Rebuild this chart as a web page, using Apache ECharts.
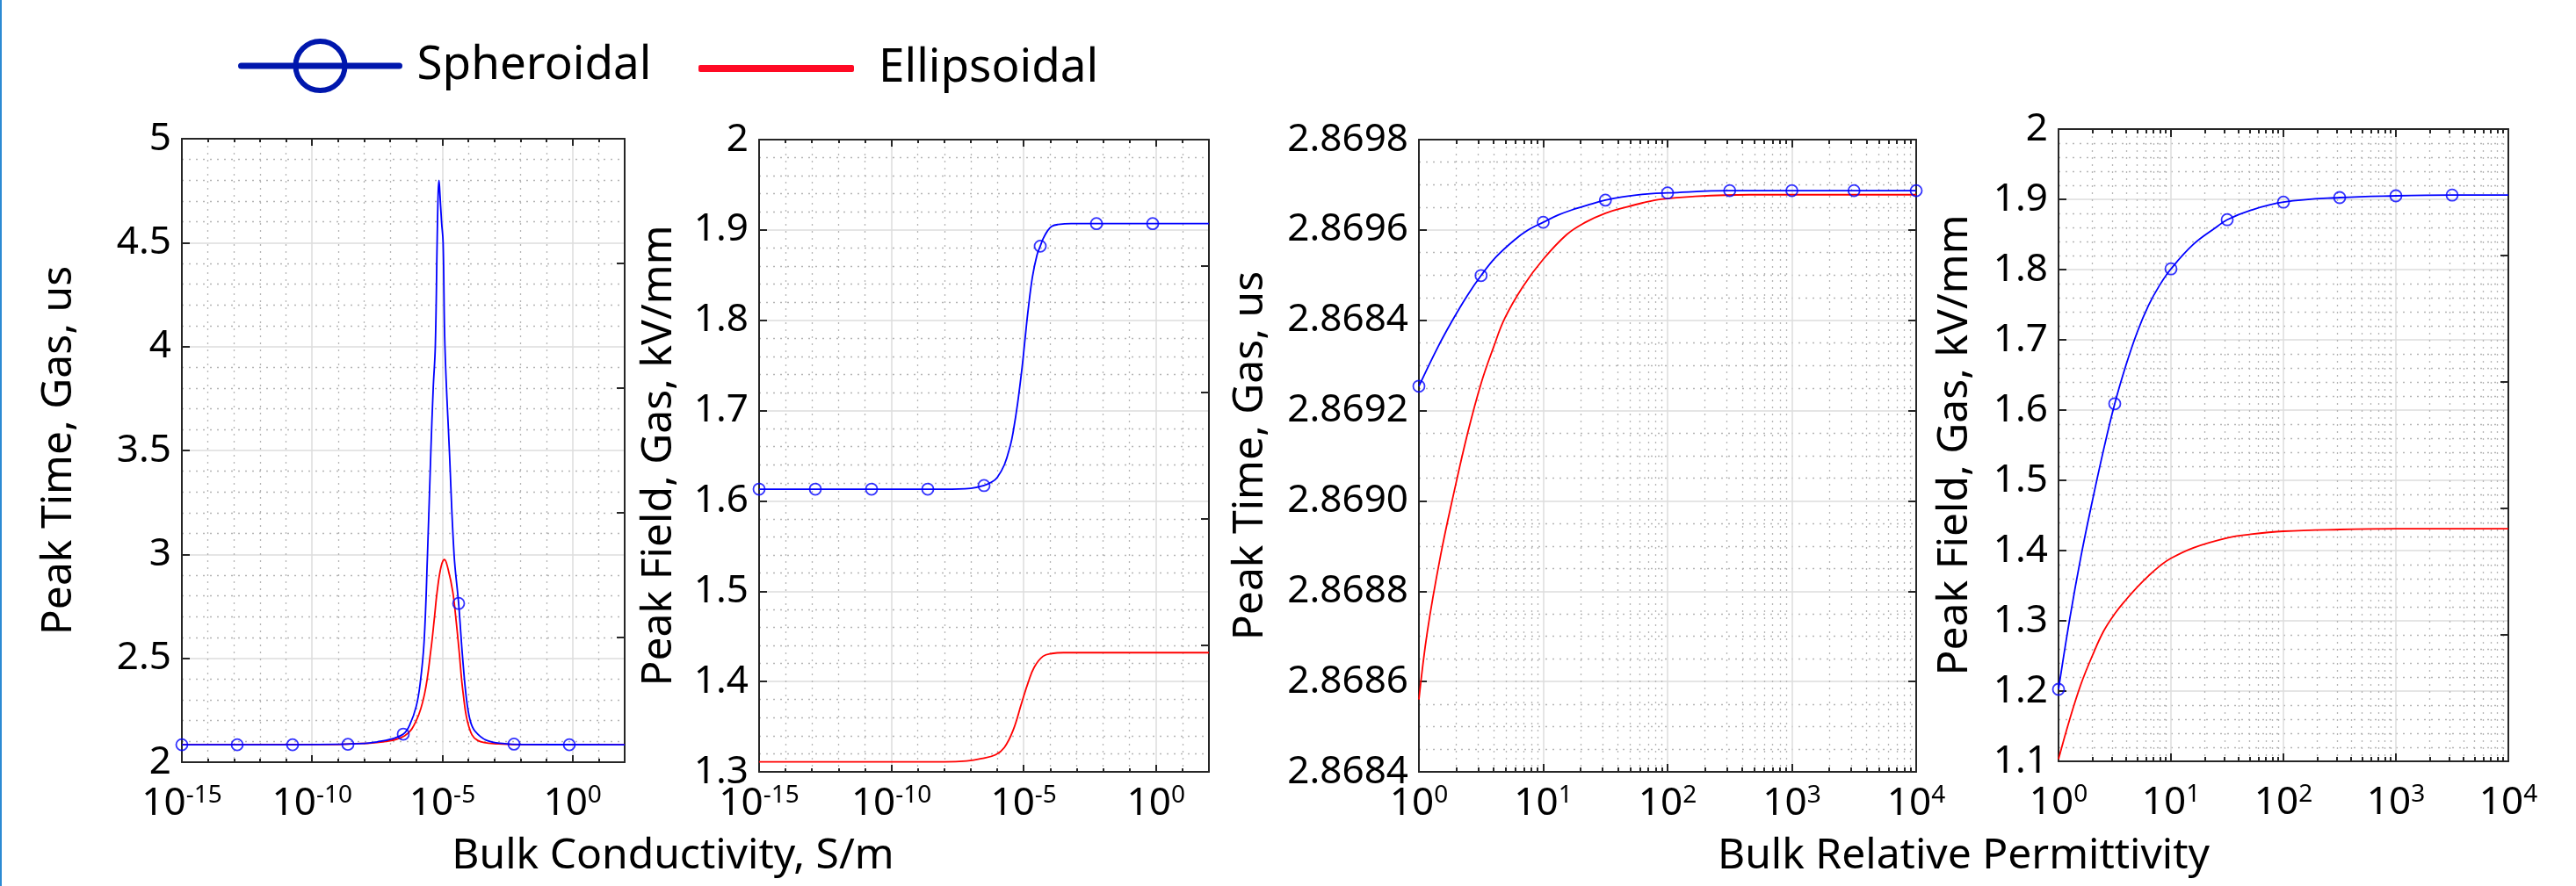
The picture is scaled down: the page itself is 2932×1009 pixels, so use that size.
<!DOCTYPE html>
<html>
<head>
<meta charset="utf-8">
<script src="https://cdn.jsdelivr.net/npm/echarts@6/dist/echarts.min.js"></script>
<style>
html,body{margin:0;padding:0;background:#fff;}
#chart{width:2932px;height:1009px;}
</style>
</head>
<body>
<div id="chart"></div>
<script>
// ================= DATA =================
const seriesNames = ['Spheroidal', 'Ellipsoidal'];

// Panel 1: Peak Time vs log10(Bulk Conductivity, S/m)
const p1SphX = [-15,-12,-9,-8,-7.5,-7,-6.5,-6.25,-6,-5.85,-5.7,-5.57,-5.44,-5.35,-5.27,-5.2,-5.16,-5.13,-5.1,-5.03,-4.97,-4.9,-4.73,-4.55,-4.375,-4.22,-4.07,-3.93,-3.75,-3.3,-2.6,-2,2];
const p1SphY = [2.084,2.084,2.086,2.09,2.098,2.11,2.135,2.18,2.27,2.38,2.58,3.0,3.5,3.8,4.0,4.5,4.74,4.80,4.75,4.6,4.5,4.0,3.5,3.0,2.764,2.5,2.3,2.2,2.15,2.105,2.089,2.085,2.084];
const p1EllX = [-15,-9,-8.5,-7.36,-6.45,-6.0,-5.68,-5.44,-5.3,-5.2,-5.05,-4.92,-4.78,-4.6,-4.47,-4.36,-4.2,-3.98,-3.65,-2.84,-2,2];
const p1EllY = [2.084,2.085,2.088,2.097,2.127,2.2,2.33,2.54,2.7,2.82,2.94,2.975,2.93,2.82,2.68,2.54,2.33,2.17,2.105,2.088,2.085,2.084];
const p1MarkX = [-15,-12.875,-10.75,-8.625,-6.5,-4.375,-2.25,-0.125];
const p1MarkY = [2.084,2.084,2.084,2.086,2.135,2.764,2.087,2.084];

// Panel 2: Peak Field vs log10(Bulk Conductivity, S/m)
const p2SphX = [-15,-8,-7,-6.5,-6.2,-6.0,-5.73,-5.5,-5.4,-5.23,-5.06,-4.95,-4.83,-4.67,-4.5,-4.375,-4.27,-4.1,-3.94,-3.7,-3.2,2];
const p2SphY = [1.613,1.613,1.614,1.617,1.621,1.626,1.640,1.662,1.676,1.708,1.748,1.779,1.812,1.848,1.872,1.882,1.890,1.899,1.904,1.906,1.907,1.907];
const p2EllX = [-15,-8,-7.16,-6.6,-6.06,-5.73,-5.4,-5.07,-4.83,-4.6,-4.27,-3.94,-3.5,2];
const p2EllY = [1.311,1.311,1.312,1.3146,1.319,1.327,1.346,1.377,1.399,1.416,1.428,1.431,1.432,1.432];
const p2MarkX = [-15,-12.875,-10.75,-8.625,-6.5,-4.375,-2.25,-0.125];
const p2MarkY = [1.613,1.613,1.613,1.613,1.617,1.882,1.907,1.907];

// Panel 3: Peak Time vs log10(Bulk Relative Permittivity)
const p3SphX = [0,0.155,0.27,0.39,0.5,0.62,0.765,0.88,1.0,1.12,1.26,1.355,1.5,1.63,1.86,2.0,2.5,4];
const p3SphY = [2.869254,2.869342,2.869400,2.869455,2.869499,2.869540,2.869577,2.869600,2.869617,2.869633,2.869647,2.869655,2.869666,2.869673,2.869680,2.869682,2.869687,2.869687];
const p3EllX = [0,0.067,0.175,0.283,0.392,0.5,0.6,0.69,0.835,1.0,1.19,1.34,1.5,1.66,1.8,1.95,2.2,2.66,4];
const p3EllY = [2.86856,2.868709,2.86888,2.86902,2.86915,2.86926,2.86934,2.869404,2.869474,2.869535,2.86959,2.869617,2.869637,2.86965,2.86966,2.869668,2.869674,2.869678,2.869678];
const p3MarkX = [0,0.5,1,1.5,2,2.5,3,3.5,4];
const p3MarkY = [2.869254,2.869499,2.869617,2.869666,2.869682,2.869687,2.869687,2.869687,2.869687];
const p3TickLabels = ['2.8684','2.8686','2.8688','2.8690','2.8692','2.8684','2.8696','2.8698'];

// Panel 4: Peak Field vs log10(Bulk Relative Permittivity)
const p4SphX = [0,0.1,0.2,0.3,0.4,0.5,0.6,0.7,0.8,0.9,1.0,1.2,1.4,1.5,1.7,2.0,2.5,3,3.5,4];
const p4SphY = [1.2025,1.303,1.392,1.470,1.543,1.609,1.664,1.711,1.749,1.778,1.801,1.836,1.86,1.871,1.884,1.896,1.9025,1.905,1.906,1.906];
const p4EllX = [0,0.1,0.2,0.3,0.4,0.5,0.6,0.7,0.8,0.9,1.0,1.2,1.5,1.7,2.0,2.5,3,4];
const p4EllY = [1.103,1.16,1.21,1.25,1.285,1.31,1.33,1.348,1.364,1.378,1.389,1.404,1.418,1.423,1.4275,1.43,1.431,1.431];
const p4MarkX = [0,0.5,1,1.5,2,2.5,3,3.5];
const p4MarkY = [1.2025,1.609,1.801,1.871,1.896,1.9025,1.905,1.906];

// axis titles
const yTitles = ['Peak Time, Gas, us','Peak Field, Gas, kV/mm','Peak Time, Gas, us','Peak Field, Gas, kV/mm'];
const xTitles = ['Bulk Conductivity, S/m','Bulk Relative Permittivity'];

// ================= STYLE / LAYOUT =================
const FONT = 'Noto Sans';
const AXIS_COLOR = '#262626';
const MAJOR_GRID = '#dcdcdc';
const MINOR_GRID = '#b5b5b5';
const BLUE = '#0000ff';
const RED = '#ff0000';

// minor log-decade positions (2..9 x 10^n) for permittivity axes
const logMinor = [];
for (let n = 0; n < 4; n++) for (let k = 2; k <= 9; k++) logMinor.push(+(n + Math.log10(k)).toFixed(6));

const zip = (xs, ys) => xs.map((x, i) => [x, ys[i]]);

const panels = [
  { grid:{left:207, top:158, width:504, height:710},
    x:{min:-15, max:2, interval:5, minor:5, log:false, margin:24},
    y:{min:2, max:5, interval:0.5, minor:5, nameGap:116, fmt:null},
    right:5, sph:zip(p1SphX,p1SphY), ell:zip(p1EllX,p1EllY), marks:zip(p1MarkX,p1MarkY), yName:yTitles[0] },
  { grid:{left:864, top:159, width:512, height:720},
    x:{min:-15, max:2, interval:5, minor:5, log:false, margin:13},
    y:{min:1.3, max:2, interval:0.1, minor:5, nameGap:90, fmt:null},
    right:5, sph:zip(p2SphX,p2SphY), ell:zip(p2EllX,p2EllY), marks:zip(p2MarkX,p2MarkY), yName:yTitles[1] },
  { grid:{left:1615, top:159, width:566, height:720},
    x:{min:0, max:4, interval:1, minor:0, log:true, margin:13},
    y:{min:2.8684, max:2.8698, interval:0.0002, minor:4, nameGap:168,
       fmt:(v)=>p3TickLabels[Math.round((v-2.8684)/0.0002)] || ''},
    right:7, sph:zip(p3SphX,p3SphY), ell:zip(p3EllX,p3EllY), marks:zip(p3MarkX,p3MarkY), yName:yTitles[2] },
  { grid:{left:2343, top:147, width:512, height:720},
    x:{min:0, max:4, interval:1, minor:0, log:true, margin:24},
    y:{min:1.1, max:2, interval:0.1, minor:5, nameGap:94, fmt:null},
    right:5, sph:zip(p4SphX,p4SphY), ell:zip(p4EllX,p4EllY), marks:zip(p4MarkX,p4MarkY), yName:yTitles[3] }
];

const richSup = {
  b:{fontSize:44, fontFamily:FONT, color:'#000', lineHeight:46},
  s:{fontSize:28, fontFamily:FONT, color:'#000', lineHeight:28, verticalAlign:'top'}
};
const tickLine = {color:AXIS_COLOR, width:2};

const grids = [], xAxes = [], yAxes = [], series = [];

panels.forEach((p, gi) => {
  grids.push(Object.assign({outerBoundsMode:'none', containLabel:false}, p.grid));
  const xMain = xAxes.length;
  const base = {type:'value', gridIndex:gi, min:p.x.min, max:p.x.max, interval:p.x.interval};
  // bottom main axis
  xAxes.push(Object.assign({}, base, {
    position:'bottom',
    axisLine:{show:true, onZero:false, lineStyle:tickLine},
    axisTick:{show:true, inside:true, length:p.x.log ? 9 : 8, lineStyle:tickLine},
    minorTick:{show:p.x.minor > 0, splitNumber:p.x.minor || 5, length:4, lineStyle:tickLine},
    splitLine:{show:true, lineStyle:{color:MAJOR_GRID, width:1.5}},
    minorSplitLine:{show:p.x.minor > 0, lineStyle:{color:MINOR_GRID, width:1.3, type:[2,6]}},
    axisLabel:{show:true, margin:p.x.margin, showMaxLabel:p.x.log, showMinLabel:true,
      formatter:(v)=>'{b|10}{s|' + Math.round(v) + '}', rich:richSup}
  }));
  // top mirror axis
  xAxes.push(Object.assign({}, base, {
    position:'top',
    axisLine:{show:true, onZero:false, lineStyle:tickLine},
    axisTick:{show:true, inside:true, length:p.x.log ? 9 : 8, lineStyle:tickLine},
    minorTick:{show:p.x.minor > 0, splitNumber:p.x.minor || 5, length:4, lineStyle:tickLine},
    splitLine:{show:false}, axisLabel:{show:false}
  }));
  if (p.x.log) {
    // log-decade minor ticks + dotted minor grid (bottom) and minor ticks (top)
    xAxes.push(Object.assign({}, base, {
      position:'bottom',
      axisLine:{show:false},
      axisTick:{show:true, inside:true, length:5, lineStyle:tickLine, customValues:logMinor},
      splitLine:{show:true, lineStyle:{color:MINOR_GRID, width:1.3, type:[2,6]}},
      axisLabel:{show:false}
    }));
    xAxes.push(Object.assign({}, base, {
      position:'top',
      axisLine:{show:false},
      axisTick:{show:true, inside:true, length:5, lineStyle:tickLine, customValues:logMinor},
      splitLine:{show:false},
      axisLabel:{show:false}
    }));
  }
  const yMain = yAxes.length;
  yAxes.push({
    type:'value', gridIndex:gi, position:'left', min:p.y.min, max:p.y.max, interval:p.y.interval,
    axisLine:{show:true, onZero:false, lineStyle:tickLine},
    axisTick:{show:true, inside:true, length:9, lineStyle:tickLine},
    minorTick:{show:false, splitNumber:p.y.minor},
    splitLine:{show:true, lineStyle:{color:MAJOR_GRID, width:1.5}},
    minorSplitLine:{show:true, lineStyle:{color:MINOR_GRID, width:1.3, type:[2,6]}},
    axisLabel:{show:true, margin:12, fontSize:44, fontFamily:FONT, color:'#000',
      formatter: p.y.fmt || ((v)=>String(+v.toFixed(4)))},
    name:p.yName, nameLocation:'middle', nameRotate:90, nameGap:p.y.nameGap, nameMoveOverlap:false,
    nameTextStyle:{fontSize:48, fontFamily:FONT, color:'#000', lineHeight:48}
  });
  yAxes.push({
    type:'value', gridIndex:gi, position:'right', min:0, max:p.right, interval:1,
    axisLine:{show:true, onZero:false, lineStyle:tickLine},
    axisTick:{show:true, inside:true, length:9, lineStyle:tickLine},
    splitLine:{show:false}, axisLabel:{show:false}
  });
  series.push({
    name:seriesNames[1], type:'line', xAxisIndex:xMain, yAxisIndex:yMain, data:p.ell,
    symbol:'none', showSymbol:false, smooth:0.4,
    lineStyle:{color:RED, width:1.8}, itemStyle:{color:RED}, z:3, silent:true
  });
  series.push({
    name:seriesNames[0], type:'line', xAxisIndex:xMain, yAxisIndex:yMain, data:p.sph,
    symbol:'circle', showSymbol:false, smooth:0.4,
    lineStyle:{color:BLUE, width:1.8}, itemStyle:{color:BLUE}, z:4, silent:true
  });
});
panels.forEach((p, gi) => {
  const xMain = xAxes.findIndex(a => a.gridIndex === gi);
  series.push({
    name:seriesNames[0] + ' markers', type:'scatter', xAxisIndex:xMain, yAxisIndex:gi*2, data:p.marks,
    symbol:'circle', symbolSize:13,
    itemStyle:{color:'rgba(0,0,0,0)', borderColor:BLUE, borderWidth:1.8}, z:5, silent:true
  });
});

const option = {
  animation:false,
  backgroundColor:'#ffffff',
  textStyle:{fontFamily:FONT},
  legend:[
    { data:[seriesNames[0]], left:271, top:43, padding:0, selectedMode:false,
      itemWidth:180, itemHeight:70,
      itemStyle:{color:'rgba(0,0,0,0)', borderColor:'#0017ad', borderWidth:6},
      lineStyle:{color:'#0017ad', width:7, cap:'round'},
      textStyle:{fontSize:53, fontFamily:FONT, color:'#000', lineHeight:64, padding:[0,0,0,15]} },
    { data:[{name:seriesNames[1], icon:'roundRect'}], left:795, top:46, padding:0, selectedMode:false,
      itemWidth:177, itemHeight:8,
      itemStyle:{color:'#ff0a24'},
      textStyle:{fontSize:53, fontFamily:FONT, color:'#000', lineHeight:64, padding:[0,0,0,23]} }
  ],
  grid:grids, xAxis:xAxes, yAxis:yAxes, series:series,
  graphic:[
    {type:'rect', shape:{x:0, y:0, width:2, height:1009}, style:{fill:'#2b8ad3'}, silent:true},
    {type:'text', x:766, y:975, silent:true,
     style:{text:xTitles[0], fontSize:48, fontFamily:FONT, fill:'#000', align:'center', verticalAlign:'middle', textAlign:'center', textVerticalAlign:'middle'}},
    {type:'text', x:2235, y:975, silent:true,
     style:{text:xTitles[1], fontSize:48, fontFamily:FONT, fill:'#000', align:'center', verticalAlign:'middle', textAlign:'center', textVerticalAlign:'middle'}}
  ]
};

const chart = echarts.init(document.getElementById('chart'), null, {renderer:'canvas'});
chart.setOption(option);
</script>
</body>
</html>
